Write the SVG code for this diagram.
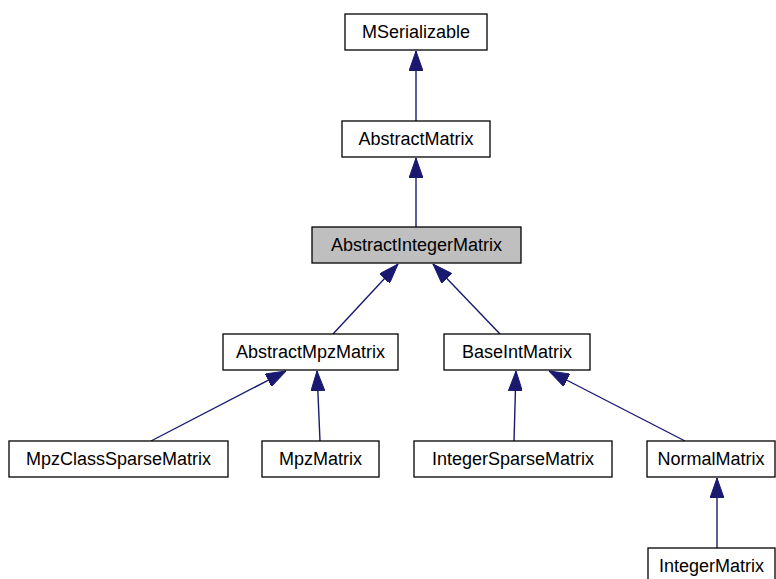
<svg xmlns="http://www.w3.org/2000/svg" width="776" height="579" viewBox="0 0 776 579">
  <style>
    .node rect { fill: #ffffff; stroke: #000000; stroke-width: 1.3; }
    .node.current rect { fill: #bfbfbf; }
    .node text { font-family: "Liberation Sans", Arial, sans-serif; font-size: 18px; fill: #000000; text-anchor: middle; }
    .edge { fill: none; stroke: #191970; stroke-width: 1.4; marker-start: url(#inherit); }
  </style>
  <defs>
    <marker id="inherit" viewBox="0 0 20 14" refX="20" refY="7" markerWidth="20" markerHeight="14" markerUnits="userSpaceOnUse" orient="auto-start-reverse">
      <path d="M0,0 L20,7 L0,14 Z" fill="#191970" stroke="#191970" stroke-width="1"/>
    </marker>
  </defs>
  <rect width="776" height="579" fill="#ffffff"/>

  <!-- inheritance edges (arrow points at the base class) -->
  <g id="connectors">
    <path class="edge" d="M416,51 L416,121"/>
    <path class="edge" d="M416,158 L416,227"/>
    <path class="edge" d="M398,264 L333,334"/>
    <path class="edge" d="M433,264 L500,334"/>
    <path class="edge" d="M286,371 L151,441"/>
    <path class="edge" d="M317,371 L320,441"/>
    <path class="edge" d="M516,371 L514,441"/>
    <path class="edge" d="M549,371 L685,441"/>
    <path class="edge" d="M717,478 L717,548"/>
  </g>

  <g id="MSerializable" class="node">
    <rect x="345" y="14" width="142" height="36"/>
    <text x="416" y="37.5">MSerializable</text>
  </g>
  <g id="AbstractMatrix" class="node">
    <rect x="342" y="121" width="148" height="36"/>
    <text x="416" y="144.5">AbstractMatrix</text>
  </g>
  <g id="AbstractIntegerMatrix" class="node current">
    <rect x="312" y="227" width="209" height="36"/>
    <text x="416.5" y="250.5">AbstractIntegerMatrix</text>
  </g>
  <g id="AbstractMpzMatrix" class="node">
    <rect x="223" y="334" width="175" height="36"/>
    <text x="310.5" y="357.5">AbstractMpzMatrix</text>
  </g>
  <g id="BaseIntMatrix" class="node">
    <rect x="444" y="334" width="146" height="36"/>
    <text x="517" y="357.5">BaseIntMatrix</text>
  </g>
  <g id="MpzClassSparseMatrix" class="node">
    <rect x="9" y="441" width="219" height="36"/>
    <text x="118.5" y="464.5">MpzClassSparseMatrix</text>
  </g>
  <g id="MpzMatrix" class="node">
    <rect x="262" y="441" width="117" height="36"/>
    <text x="320.5" y="464.5">MpzMatrix</text>
  </g>
  <g id="IntegerSparseMatrix" class="node">
    <rect x="414" y="441" width="198" height="36"/>
    <text x="513" y="464.5">IntegerSparseMatrix</text>
  </g>
  <g id="NormalMatrix" class="node">
    <rect x="647" y="441" width="128" height="36"/>
    <text x="711" y="464.5">NormalMatrix</text>
  </g>
  <g id="IntegerMatrix" class="node">
    <rect x="648" y="548" width="127" height="36"/>
    <text x="711.5" y="571.5">IntegerMatrix</text>
  </g>
</svg>
